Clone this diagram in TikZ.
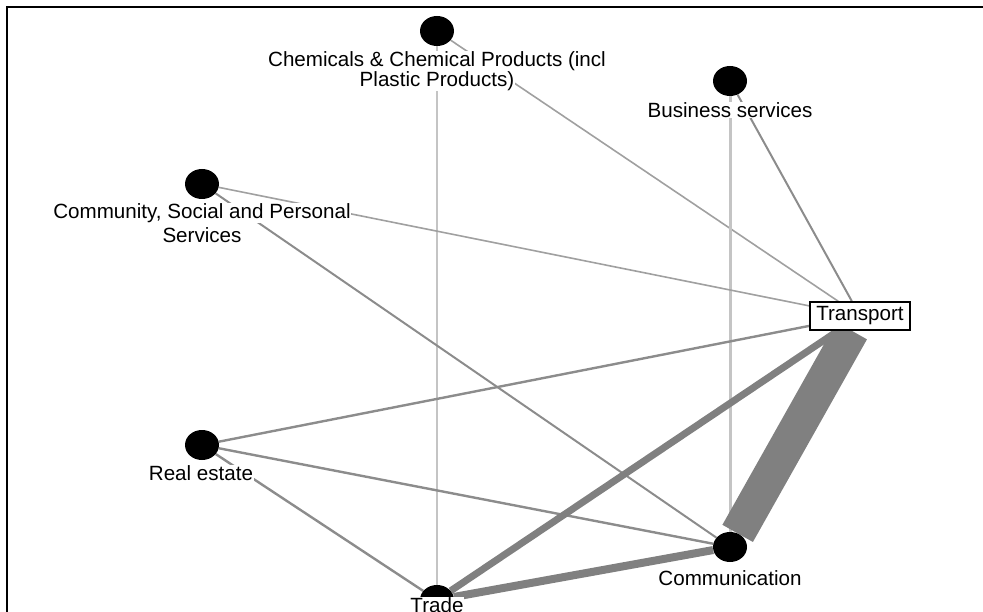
\documentclass[tikz,border=0pt]{standalone}
\usepackage{fontspec}
\setmainfont{Liberation Sans}
\usetikzlibrary{shapes.geometric}
\pgfdeclarelayer{bg}
\pgfsetlayers{bg,main}
\definecolor{edark}{HTML}{808080}
\definecolor{emid}{HTML}{8C8C8C}
\definecolor{ethin}{HTML}{A0A0A0}
\definecolor{elight}{HTML}{C4C4C4}
\tikzset{
  vert/.style={ellipse, fill=black, minimum width=34pt, minimum height=30pt, inner sep=0pt},
  lbl/.style={fill=white, inner sep=0.5pt, font=\fontsize{20.6}{22}\selectfont, text=black},
  tbox/.style={draw=black, line width=1.5pt, fill=white, inner sep=2pt, minimum width=100pt, minimum height=28pt, font=\fontsize{20.6}{22}\selectfont},
  wdark/.style={draw=edark},
  wmid/.style={draw=emid, line width=2.4pt},
  wthin/.style={draw=ethin, line width=1.6pt},
  wlight/.style={draw=elight},
  frame/.style={draw=black, line width=2pt}
}
\begin{document}
\begin{tikzpicture}[x=1pt,y=-1pt]
\useasboundingbox (0,0) rectangle (983,612);
\coordinate (fa) at (7,612);
\coordinate (fb) at (7,7);
\coordinate (fc) at (983,7);
\draw[frame] (fa) -- (fb) -- (fc);

\node[vert] (chem) at (437,31) {};
\node[vert] (bus) at (730,81) {};
\node[vert] (cs) at (202,184) {};
\node[vert] (re) at (202,445) {};
\node[vert] (comm) at (730,547) {};
\node[vert] (trade) at (437,600) {};
\node[tbox] (trans) at (860,316) {Transport};

\begin{pgfonlayer}{bg}
\draw[wlight, line width=2.5pt] (chem) -- (trade);
\draw[wthin] (chem) -- (trans);
\draw[wlight, line width=3pt] (bus) -- (comm);
\draw[wmid, line width=2pt] (bus) -- (trans);
\draw[wthin] (cs) -- (trans);
\draw[wmid, line width=2pt] (cs) -- (comm);
\draw[wmid] (re) -- (trans);
\draw[wmid] (re) -- (comm);
\draw[wmid] (re) -- (trade);
\draw[wdark, line width=7pt] (trade) -- (trans);
\draw[wdark, line width=8pt] (trade) -- (comm);
\draw[wdark, line width=35pt] (trans) -- (comm);
\end{pgfonlayer}

\node[lbl] (chemLa) at (437,61) {Chemicals \& Chemical Products (incl};
\node[lbl] (chemLb) at (437,81) {Plastic Products)};
\node[lbl] (busL) at (730,110) {Business services};
\node[lbl] (csLa) at (202,213) {Community, Social and Personal};
\node[lbl] (csLb) at (202,235) {Services};
\node[lbl] (reL) at (201,473) {Real estate};
\node[lbl] (commL) at (730,578) {Communication};
\node[lbl] (tradeL) at (437,605) {Trade};
\end{tikzpicture}
\end{document}
